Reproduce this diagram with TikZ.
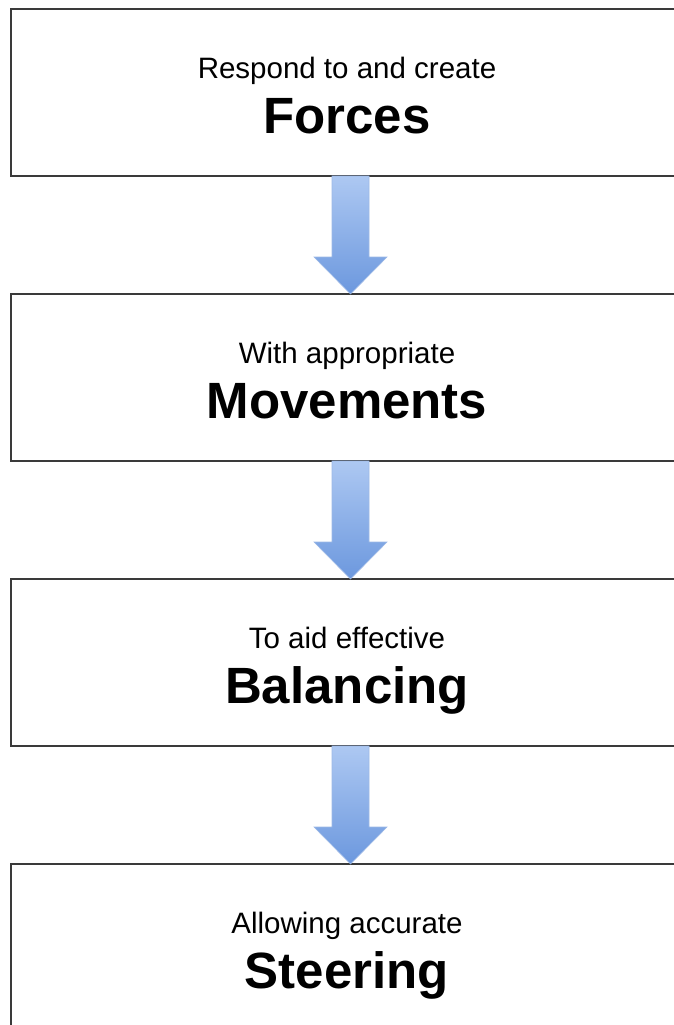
\documentclass[tikz,border=0pt]{standalone}
\usepackage{fontspec}
\setmainfont{Liberation Sans}
\usetikzlibrary{calc}
\definecolor{boxline}{HTML}{3A3A3A}
\definecolor{arrowtop}{HTML}{ADC8F2}
\definecolor{arrowbot}{HTML}{6C98DE}
\definecolor{arrowedge}{HTML}{9DB9E6}
\tikzset{
  stage/.style={draw=boxline, line width=1.3pt, minimum width=672pt, minimum height=167pt,
    inner sep=0pt, outer sep=0pt, anchor=north west, rectangle},
  subtext/.style={anchor=base, inner sep=0pt, font=\fontsize{29.5}{34}\selectfont},
  maintext/.style={anchor=base, inner sep=0pt, font=\bfseries\fontsize{51}{60}\selectfont},
  arrowfill/.style={top color=arrowtop, bottom color=arrowbot, draw=arrowedge, line width=0.6pt, line join=miter}
}
\newcommand{\flowarrow}[2]{%
  \path[arrowfill] ($(#1.south west)+(321,0)$) -- ($(#2.north west)+(321,-37)$)
    -- ($(#2.north west)+(303,-37)$) -- ($(#2.north west)+(339.5,0)$)
    -- ($(#2.north west)+(376,-37)$) -- ($(#2.north west)+(358,-37)$)
    -- ($(#1.south west)+(358,0)$) -- cycle;}
\begin{document}
\begin{tikzpicture}[x=1pt,y=-1pt]
\useasboundingbox[fill=white] (0,0) rectangle (673,1025);
\node[stage] (b1) at (11,9) {};
\node[stage] (b2) at (11,294) {};
\node[stage] (b3) at (11,579) {};
\node[stage] (b4) at (11,864) {};
\node[subtext] (s1) at ($(b1.north west)+(336,69)$) {Respond to and create};
\node[maintext] (m1) at ($(b1.north west)+(336,124)$) {Forces};
\node[subtext] (s2) at ($(b2.north west)+(336,69)$) {With appropriate};
\node[maintext] (m2) at ($(b2.north west)+(336,124)$) {Movements};
\node[subtext] (s3) at ($(b3.north west)+(336,69)$) {To aid effective};
\node[maintext] (m3) at ($(b3.north west)+(336,124)$) {Balancing};
\node[subtext] (s4) at ($(b4.north west)+(336,69)$) {Allowing accurate};
\node[maintext] (m4) at ($(b4.north west)+(336,124)$) {Steering};
\flowarrow{b1}{b2}
\flowarrow{b2}{b3}
\flowarrow{b3}{b4}
\end{tikzpicture}
\end{document}
